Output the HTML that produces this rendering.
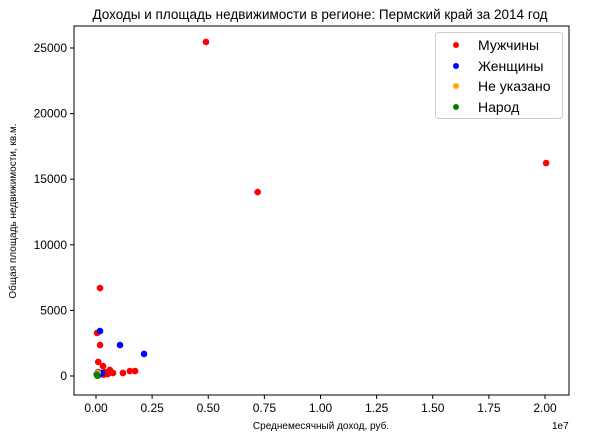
<!DOCTYPE html>
<html><head><meta charset="utf-8"><style>
body{margin:0;background:#fff;}
svg{font-family:"Liberation Sans","DejaVu Sans",sans-serif;}
</style></head><body>
<svg id="c" width="589" height="439" xmlns="http://www.w3.org/2000/svg">
<rect width="589" height="439" fill="#fff"/>
<text x="320" y="19" text-anchor="middle" font-size="13.5">Доходы и площадь недвижимости в регионе: Пермский край за 2014 год</text>
<g id="marks"></g>
<rect x="74" y="26" width="495" height="369" fill="none" stroke="#000" stroke-width="1"/>
<g id="axes" font-size="12"></g>
<text x="321" y="429" text-anchor="middle" font-size="10">Среднемесячный доход, руб.</text>
<text x="552" y="429" font-size="10">1e7</text>
<text transform="translate(16,211) rotate(-90)" text-anchor="middle" font-size="10">Общая площадь недвижимости, кв.м.</text>
<g>
<rect x="435.5" y="32.5" width="127" height="86" rx="3" fill="#fff" stroke="#ccc"/>
<circle cx="456" cy="45" r="3" fill="red"/><text x="478" y="50" font-size="14">Мужчины</text>
<circle cx="456" cy="66" r="3" fill="blue"/><text x="478" y="71" font-size="14">Женщины</text>
<circle cx="456" cy="86" r="3" fill="orange"/><text x="478" y="91" font-size="14">Не указано</text>
<circle cx="456" cy="107" r="3" fill="green"/><text x="478" y="112" font-size="14">Народ</text>
</g>
</svg>
<script>
// x values in units of 1e7 rubles
const xTicks=[0,0.25,0.5,0.75,1.0,1.25,1.5,1.75,2.0];
const xTickLabels=["0.00","0.25","0.50","0.75","1.00","1.25","1.50","1.75","2.00"];
const yTicks=[0,5000,10000,15000,20000,25000];
const menX=[0.49,2.005,0.72,0.018,0.005,0.018,0.01,0.031,0.062,0.076,0.12,0.151,0.174,0.04,0.053,0.02,0.035];
const menY=[25460,16235,14020,6700,3280,2360,1070,760,460,230,230,380,380,300,150,200,100];
const womenX=[0.018,0.107,0.214,0.027,0.009,0.004,0.015];
const womenY=[3430,2360,1680,230,300,150,100];
const unkX=[0.008,0.005];
const unkY=[250,150];
const peopleX=[0.006,0.004];
const peopleY=[20,100];
const X=v=>96+v/2.0*449;
const Y=v=>376-v*0.01312;
const NS="http://www.w3.org/2000/svg";
const ax=document.getElementById('axes');
xTicks.forEach((t,i)=>{
 const l=document.createElementNS(NS,'line');
 l.setAttribute('x1',X(t));l.setAttribute('x2',X(t));l.setAttribute('y1',395);l.setAttribute('y2',399);l.setAttribute('stroke','#000');
 
 
 ax.appendChild(l);
 const tx=document.createElementNS(NS,'text');
 tx.setAttribute('x',X(t));tx.setAttribute('y',412);tx.setAttribute('text-anchor','middle');tx.textContent=xTickLabels[i];
 
 
 ax.appendChild(tx);
});
yTicks.forEach(t=>{
 const l=document.createElementNS(NS,'line');
 l.setAttribute('x1',70);l.setAttribute('x2',74);l.setAttribute('y1',Y(t));l.setAttribute('y2',Y(t));l.setAttribute('stroke','#000');
 
 
 ax.appendChild(l);
 const tx=document.createElementNS(NS,'text');
 tx.setAttribute('x',67);tx.setAttribute('y',Y(t)+4);tx.setAttribute('text-anchor','end');tx.textContent=String(t);
 
 
 ax.appendChild(tx);
});
const mk=document.getElementById('marks');
function series(xs,ys,color,name){
 xs.forEach((x,i)=>{
  const c=document.createElementNS(NS,'circle');
  c.setAttribute('cx',X(x));c.setAttribute('cy',Y(ys[i]));c.setAttribute('r',3.3);c.setAttribute('fill',color);
  
  
  mk.appendChild(c);
 });
}
series(menX,menY,'red','point-men');
series(womenX,womenY,'blue','point-women');
series(unkX,unkY,'orange','point-unknown');
series(peopleX,peopleY,'green','point-people');
</script>
</body></html>
